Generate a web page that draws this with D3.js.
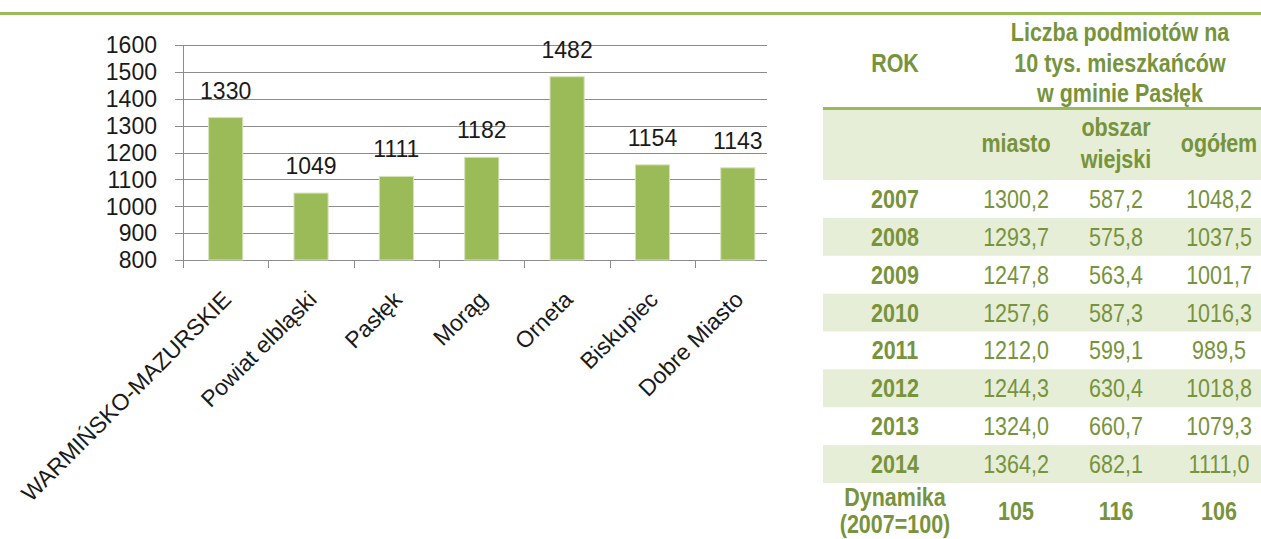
<!DOCTYPE html>
<html>
<head>
<meta charset="utf-8">
<title>Liczba podmiotów</title>
<style>
    body { margin: 0; background: #fff; }
    svg { display: block; }
</style>
</head>
<body>
<svg width="1261" height="539"></svg>
<script src="https://d3js.org/d3.v7.min.js"></script>
<script>
// chart data
var categories = ["WARMIŃSKO-MAZURSKIE", "Powiat elbląski", "Pasłęk", "Morąg", "Orneta", "Biskupiec", "Dobre Miasto"];
var values = [1330, 1049, 1111, 1182, 1482, 1154, 1143];
var yTicks = [800, 900, 1000, 1100, 1200, 1300, 1400, 1500, 1600];

// table data
var years = ["2007", "2008", "2009", "2010", "2011", "2012", "2013", "2014"];
var miasto = [1300.2, 1293.7, 1247.8, 1257.6, 1212.0, 1244.3, 1324.0, 1364.2];
var obszar = [587.2, 575.8, 563.4, 587.3, 599.1, 630.4, 660.7, 682.1];
var ogolem = [1048.2, 1037.5, 1001.7, 1016.3, 989.5, 1018.8, 1079.3, 1111.0];
var dynamika = [105, 116, 106];
var titleLines = ["Liczba podmiotów na", "10 tys. mieszkańców", "w gminie Pasłęk"];

var green = "#9bbb59";
var textGreen = "#77933c";

var svg = d3.select("svg");
var width = +svg.attr("width");

// green line across the top
svg.append("rect")
    .attr("x", 0).attr("y", 12)
    .attr("width", width).attr("height", 3)
    .attr("fill", green);

// ---------- bar chart ----------
var x = d3.scaleBand()
    .domain(categories)
    .range([183, 780.5])
    .paddingInner(0.6)
    .paddingOuter(0.3);

var y = d3.scaleLinear()
    .domain([800, 1600])
    .range([260, 45]);

var chart = svg.append("g").style("font-family", "'Liberation Sans', Arial, sans-serif");

// gridlines
chart.append("g")
    .selectAll("line")
    .data(yTicks)
    .enter()
    .append("line")
    .attr("x1", 175).attr("x2", 767)
    .attr("y1", function(d) { return Math.round(y(d)) + 0.5; })
    .attr("y2", function(d) { return Math.round(y(d)) + 0.5; })
    .attr("stroke", "#8c8c8c")
    .attr("stroke-width", 1);

// y labels
chart.append("g")
    .selectAll("text")
    .data(yTicks)
    .enter()
    .append("text")
    .attr("x", 157)
    .attr("y", function(d) { return y(d); })
    .attr("dy", "0.36em")
    .attr("text-anchor", "end")
    .style("font-size", "23px")
    .attr("fill", "#1a1a1a")
    .text(function(d) { return d; });

// vertical axis line
chart.append("line")
    .attr("x1", 183.5).attr("x2", 183.5)
    .attr("y1", y(1600)).attr("y2", 268)
    .attr("stroke", "#8c8c8c");

// category ticks
chart.append("g")
    .selectAll("line")
    .data(categories)
    .enter()
    .append("line")
    .attr("x1", function(d) { return Math.round(x(d) - x.step() * 0.3) + 0.5; })
    .attr("x2", function(d) { return Math.round(x(d) - x.step() * 0.3) + 0.5; })
    .attr("y1", 260).attr("y2", 268)
    .attr("stroke", "#8c8c8c");

// bars
chart.append("g")
    .selectAll("rect")
    .data(values)
    .enter()
    .append("rect")
    .attr("x", function(d, i) { return x(categories[i]); })
    .attr("y", function(d) { return y(d); })
    .attr("width", x.bandwidth())
    .attr("height", function(d) { return y(800) - y(d); })
    .attr("fill", green)
    .attr("stroke", "#d4e2b8")
    .attr("stroke-width", 1);

// value labels
chart.append("g")
    .selectAll("text")
    .data(values)
    .enter()
    .append("text")
    .attr("x", function(d, i) { return x(categories[i]) + x.bandwidth() / 2; })
    .attr("y", function(d) { return y(d) - 19; })
    .attr("text-anchor", "middle")
    .style("font-size", "23px")
    .attr("fill", "#1a1a1a")
    .text(function(d) { return d; });

// rotated category labels
chart.append("g")
    .selectAll("text")
    .data(categories)
    .enter()
    .append("text")
    .attr("transform", function(d) {
        return "translate(" + (x(d) + x.bandwidth() / 2 + 7) + ",301) rotate(-45)";
    })
    .attr("text-anchor", "end")
    .style("font-size", "23px")
    .attr("fill", "#1a1a1a")
    .text(function(d) { return d; });

// ---------- table ----------
var fmt = function(v) { return d3.format(".1f")(v).replace(".", ","); };

var tLeft = 823, tRight = width;
var colX = [895, 1016, 1116, 1219];
var rows = d3.scaleBand()
    .domain(years)
    .range([180, 483]);

var table = svg.append("g")
    .style("font-family", "'Liberation Sans', Arial, sans-serif")
    .attr("fill", textGreen);

function cell(g, cx, cy, txt, bold) {
    g.append("text")
        .attr("transform", "translate(" + cx + "," + cy + ") scale(0.86,1)")
        .attr("text-anchor", "middle")
        .attr("dy", "0.36em")
        .style("font-size", "25px")
        .style("font-weight", bold ? "bold" : "normal")
        .text(txt);
}

// header shading + lines
table.append("rect")
    .attr("x", tLeft).attr("y", 109)
    .attr("width", tRight - tLeft).attr("height", 71)
    .attr("fill", "#e6eed7");
table.append("rect")
    .attr("x", tLeft).attr("y", 107)
    .attr("width", tRight - tLeft).attr("height", 3)
    .attr("fill", green);

// striped rows
table.append("g")
    .selectAll("rect")
    .data(years.filter(function(d, i) { return i % 2 === 1; }))
    .enter()
    .append("rect")
    .attr("x", tLeft)
    .attr("y", function(d) { return rows(d); })
    .attr("width", tRight - tLeft)
    .attr("height", rows.bandwidth())
    .attr("fill", "#e6eed7");

// header text
cell(table, colX[0], 63, "ROK", true);
titleLines.forEach(function(t, i) { cell(table, 1120, 32 + i * 30.5, t, true); });
cell(table, colX[1], 143, "miasto", true);
cell(table, colX[2], 127, "obszar", true);
cell(table, colX[2], 159, "wiejski", true);
cell(table, colX[3], 143, "ogółem", true);

// body
years.forEach(function(yr, i) {
    var cy = rows(yr) + rows.bandwidth() / 2;
    cell(table, colX[0], cy, yr, true);
    cell(table, colX[1], cy, fmt(miasto[i]), false);
    cell(table, colX[2], cy, fmt(obszar[i]), false);
    cell(table, colX[3], cy, fmt(ogolem[i]), false);
});

// dynamika row
cell(table, colX[0], 497, "Dynamika", true);
cell(table, colX[0], 524, "(2007=100)", true);
dynamika.forEach(function(v, i) { cell(table, colX[i + 1], 511, v, true); });
</script>
</body>
</html>
